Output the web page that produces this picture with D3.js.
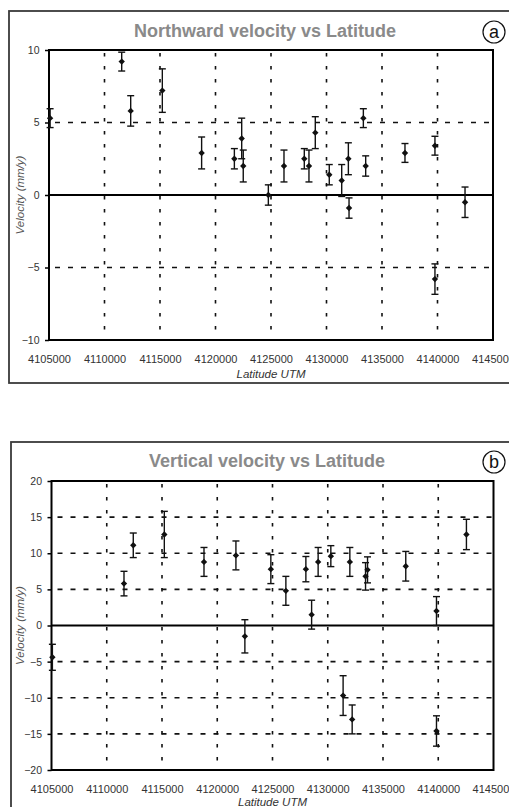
<!DOCTYPE html>
<html><head><meta charset="utf-8">
<script src="https://cdn.jsdelivr.net/npm/d3@7"></script>
<style>html,body{margin:0;padding:0;background:#fff;}svg{display:block;}</style>
</head><body>
<script>
// ---- Data ----
const northLat = [4105100,4111550,4112360,4115210,4118750,4121700,4122360,4122500,4124760,4126170,4128000,4128420,4128990,4130250,4131370,4131970,4132030,4133320,4133530,4137070,4139770,4139770,4142480];
const northVel = [5.3,9.2,5.8,7.2,2.9,2.5,3.9,2.0,0.0,2.0,2.5,2.0,4.3,1.4,1.0,2.5,-0.9,5.3,2.0,2.9,3.4,-5.8,-0.5];
const northErr = [0.65,0.65,1.05,1.5,1.1,0.7,1.4,1.1,0.7,1.1,0.7,1.1,1.1,0.7,1.1,1.1,0.7,0.65,0.7,0.65,0.65,1.05,1.05];

const vertLat = [4105080,4111560,4112400,4115210,4118800,4121690,4122500,4124850,4126210,4128020,4128540,4129130,4130280,4131390,4132000,4132210,4133420,4133600,4137060,4139840,4139840,4142550];
const vertVel = [-4.4,5.8,11.1,12.6,8.8,9.7,-1.5,7.8,4.8,7.8,1.5,8.8,9.6,-9.7,8.8,-13.0,6.8,7.7,8.2,2.0,-14.6,12.6];
const vertErr = [1.8,1.7,1.7,3.2,2.0,2.0,2.3,2.0,2.0,1.75,2.0,2.0,1.45,2.75,2.0,2.0,1.9,1.8,2.05,2.0,2.1,2.1];

const latTicks = [4105000,4110000,4115000,4120000,4125000,4130000,4135000,4140000,4145000];
const northTicks = [-10,-5,0,5,10];
const vertTicks = [-20,-15,-10,-5,0,5,10,15,20];

const northTitle = "Northward velocity vs Latitude";
const vertTitle = "Vertical velocity vs Latitude";
const xLabel = "Latitude UTM";
const yLabel = "Velocity (mm/y)";

// ---- Drawing ----
const W = 509, H = 807;
const svg = d3.select("body").append("svg").attr("width", W).attr("height", H)
  .style("font-family", "'Liberation Sans', Arial, sans-serif");

function panel(o) {
  const g = svg.append("g");
  // outer box
  g.append("rect").attr("x", o.box[0]).attr("y", o.box[1]).attr("width", o.box[2]).attr("height", o.box[3])
    .attr("fill", "none").attr("stroke", "#3a3a3a").attr("stroke-width", 1.8);

  const x = d3.scaleLinear().domain([latTicks[0], latTicks[latTicks.length-1]]).range([o.px0, o.px1]);
  const y = d3.scaleLinear().domain(o.yDomain).range([o.py1, o.py0]);

  // grid vertical (inner)
  g.selectAll(".vg").data(latTicks.slice(1, -1)).join("line")
    .attr("x1", d => x(d)).attr("x2", d => x(d)).attr("y1", o.py0).attr("y2", o.py1)
    .attr("stroke", "#111").attr("stroke-width", 1.6).attr("stroke-dasharray", "3.5,9.5")
    .attr("stroke-dashoffset", -3);
  // grid horizontal (inner, non-zero)
  g.selectAll(".hg").data(o.yTicks.filter(d => d !== 0 && d !== o.yDomain[0] && d !== o.yDomain[1])).join("line")
    .attr("x1", o.px0).attr("x2", o.px1).attr("y1", d => y(d)).attr("y2", d => y(d))
    .attr("stroke", "#111").attr("stroke-width", 1.6).attr("stroke-dasharray", "5,8")
    .attr("stroke-dashoffset", -6);
  // zero line
  g.append("line").attr("x1", o.px0).attr("x2", o.px1).attr("y1", y(0)).attr("y2", y(0))
    .attr("stroke", "#000").attr("stroke-width", 2);

  // y axis
  const ya = g.append("g").attr("transform", `translate(${o.px0},0)`)
    .call(d3.axisLeft(y).tickValues(o.yTicks).tickSize(4).tickPadding(5.5).tickFormat(d3.format("d")));
  ya.select(".domain").remove();
  ya.selectAll("line").attr("stroke", "#000").attr("stroke-width", 1.5);
  ya.selectAll("text").attr("fill", "#333").style("font-size", "10.5px").style("font-family", "'Liberation Sans', Arial, sans-serif");

  // x axis
  const xa = g.append("g").attr("transform", `translate(0,${o.py1})`)
    .call(d3.axisBottom(x).tickValues(latTicks).tickSize(0).tickPadding(15).tickFormat(d3.format("d")));
  xa.select(".domain").remove();
  xa.selectAll("text").attr("fill", "#333").style("font-size", "11px").style("font-family", "'Liberation Sans', Arial, sans-serif");

  // frame
  g.append("rect").attr("x", o.px0).attr("y", o.py0).attr("width", o.px1 - o.px0).attr("height", o.py1 - o.py0)
    .attr("fill", "none").attr("stroke", "#000").attr("stroke-width", 2);

  // error bars + markers
  const pts = o.lat.map((d, i) => ({lat: d, v: o.vel[i], e: o.err[i]}));
  const eb = g.selectAll(".eb").data(pts).join("g");
  eb.append("line").attr("x1", d => x(d.lat)).attr("x2", d => x(d.lat))
    .attr("y1", d => y(d.v + d.e)).attr("y2", d => y(d.v - d.e)).attr("stroke", "#111").attr("stroke-width", 1.4);
  eb.append("line").attr("x1", d => x(d.lat) - 3.5).attr("x2", d => x(d.lat) + 3.5)
    .attr("y1", d => y(d.v + d.e)).attr("y2", d => y(d.v + d.e)).attr("stroke", "#111").attr("stroke-width", 1.4);
  eb.append("line").attr("x1", d => x(d.lat) - 3.5).attr("x2", d => x(d.lat) + 3.5)
    .attr("y1", d => y(d.v - d.e)).attr("y2", d => y(d.v - d.e)).attr("stroke", "#111").attr("stroke-width", 1.4);
  eb.append("path").attr("d", d3.symbol(d3.symbolDiamond2, 26)())
    .attr("transform", d => `translate(${x(d.lat)},${y(d.v)})`).attr("fill", "#111");

  // title
  g.append("text").attr("x", o.titleX).attr("y", o.titleY).attr("text-anchor", "middle")
    .attr("fill", "#8a8a8a").style("font-size", "18px").style("font-weight", "bold").text(o.title);
  // circled letter
  g.append("circle").attr("cx", 494).attr("cy", o.titleY - 5).attr("r", 11).attr("fill", "#fff")
    .attr("stroke", "#111").attr("stroke-width", 1.2);
  g.append("text").attr("x", 494).attr("y", o.titleY + 1).attr("text-anchor", "middle")
    .attr("fill", "#111").style("font-size", "18px").text(o.letter);

  // x label
  g.append("text").attr("x", (o.px0 + o.px1) / 2).attr("y", o.xLabelY).attr("text-anchor", "middle")
    .attr("fill", "#333").style("font-size", "11.5px").style("font-style", "italic").text(xLabel);
  // y label
  g.append("text").attr("transform", `translate(24,${(o.py0 + o.py1) / 2}) rotate(-90)`).attr("text-anchor", "middle")
    .attr("fill", "#555").style("font-size", "11.5px").style("font-style", "italic").text(yLabel);
}

panel({
  box: [9, 11, 520, 372], px0: 49, px1: 493, py0: 50, py1: 340,
  yDomain: [-10, 10], yTicks: northTicks, lat: northLat, vel: northVel, err: northErr,
  title: northTitle, titleX: 265, titleY: 37, letter: "a", xLabelY: 378
});
panel({
  box: [11, 442, 520, 380], px0: 51.5, px1: 493.5, py0: 481, py1: 770,
  yDomain: [-20, 20], yTicks: vertTicks, lat: vertLat, vel: vertVel, err: vertErr,
  title: vertTitle, titleX: 267, titleY: 467, letter: "b", xLabelY: 806
});
</script>
</body></html>
